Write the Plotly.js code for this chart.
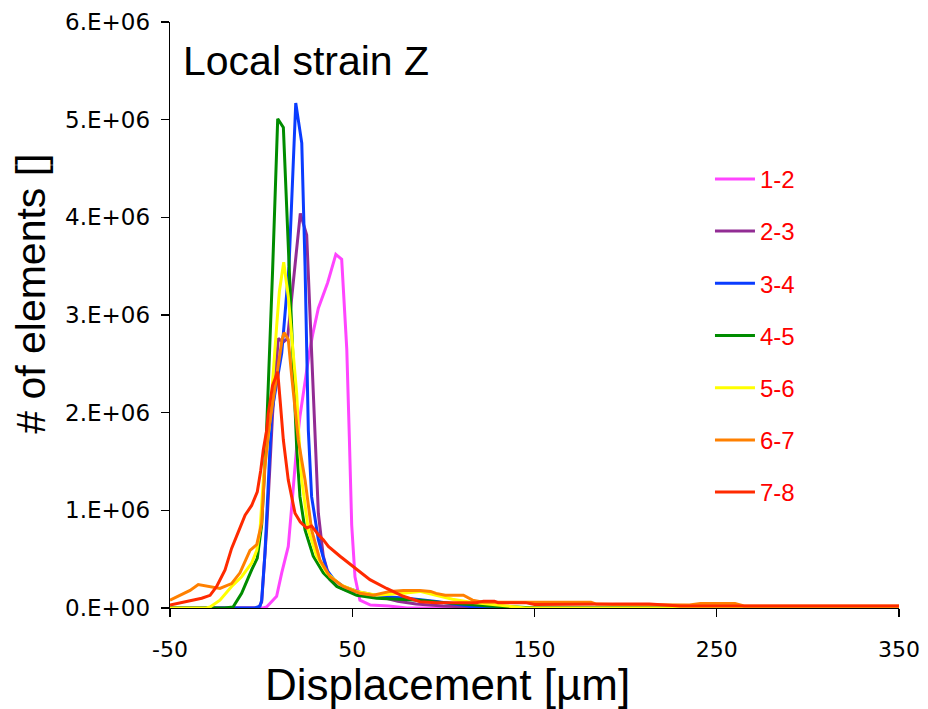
<!DOCTYPE html>
<html>
<head>
<meta charset="utf-8">
<script src="https://cdn.plot.ly/plotly-3.0.1.min.js"></script>
<style>
  html, body { margin: 0; padding: 0; background: #ffffff; }
  #chart { width: 928px; height: 709px; }
</style>
</head>
<body>
<div id="chart"></div>
<script>
// Histogram of local strain (Z) per layer pair: displacement [µm] vs. number of elements.
// Counts are listed in millions and scaled to elements when the traces are built.
const MILLION = 1e6;

const seriesNames = ["1-2", "2-3", "3-4", "4-5", "5-6", "6-7", "7-8"];
const seriesColors = ["#ff45ff", "#922c94", "#0a3cff", "#008c00", "#ffff00", "#ff8000", "#ff2a00"];

const x12 = [-50, 1, 3, 8.5, 11.3, 14.9, 16.8, 19.5, 21.3, 23.1, 26.5, 28.3, 31.4, 36.5, 41, 44.2, 47, 48.4, 49.7, 51.5, 54.2, 60, 70, 80, 350];
const y12 = [0, 0, 0.01, 0.12, 0.36, 0.63, 1.04, 1.65, 1.96, 2.2, 2.62, 2.8, 3.07, 3.33, 3.62, 3.57, 2.65, 1.75, 0.85, 0.32, 0.08, 0.03, 0.02, 0, 0];

const x23 = [-50, -1.5, 0.3, 1.2, 3, 4.9, 6.3, 9.4, 12, 14.5, 18.2, 21.5, 25, 27.5, 29.6, 31.4, 34.1, 37.8, 42, 47, 58, 65, 75, 85, 100, 115, 130, 350];
const y23 = [0, 0, 0.06, 0.29, 0.8, 1.48, 1.99, 2.76, 2.72, 2.76, 3.46, 4.04, 3.82, 2.7, 1.82, 0.97, 0.53, 0.29, 0.22, 0.18, 0.15, 0.12, 0.07, 0.04, 0.02, 0.01, 0, 0];

const x34 = [-50, -3.4, -0.6, 0.3, 2.1, 3.9, 5.8, 8.5, 11.3, 15.3, 19, 22.3, 24.1, 25.9, 27.7, 31.4, 36, 40, 45, 56, 65, 80, 95, 110, 120, 350];
const y34 = [0, 0, 0.02, 0.08, 0.56, 1.31, 2.0, 2.3, 2.61, 3.5, 5.17, 4.76, 3.5, 1.82, 1.14, 0.7, 0.39, 0.29, 0.22, 0.15, 0.12, 0.1, 0.07, 0.03, 0, 0];

const x45 = [-50, -20, -15.4, -10.7, -5.2, -2.1, 0.3, 1.5, 3, 6.3, 9.1, 12.2, 15.5, 17.3, 19.5, 21.3, 24.1, 28.6, 34.1, 41.5, 52.4, 63.4, 75, 87, 100, 110, 125, 140, 150, 350];
const y45 = [0, 0, 0.01, 0.15, 0.39, 0.51, 0.85, 1.3, 1.82, 3.46, 5.01, 4.92, 3.46, 2.71, 1.65, 1.14, 0.8, 0.53, 0.36, 0.22, 0.13, 0.1, 0.09, 0.08, 0.055, 0.04, 0.02, 0.01, 0, 0];

const x56 = [-50, -30, -28, -22.6, -16.2, -10.7, -5.2, -2.4, -0.6, 1.2, 4.5, 6.7, 8.5, 10, 12.4, 14.9, 17.7, 19.5, 20.6, 22.3, 25.9, 30.5, 36, 43.3, 52.4, 63.4, 78, 87.2, 96, 105, 115, 130, 145, 350];
const y56 = [0, 0, 0.01, 0.08, 0.22, 0.32, 0.46, 0.59, 0.8, 1.31, 1.86, 2.37, 2.88, 3.24, 3.54, 3.19, 2.61, 2.2, 1.8, 1.31, 0.8, 0.53, 0.36, 0.24, 0.17, 0.13, 0.15, 0.17, 0.13, 0.09, 0.06, 0.03, 0, 0];

const x67 = [-50, -44.5, -39, -34.5, -28, -22.6, -16.2, -11.6, -6.1, -2.4, 0.3, 2.1, 4, 6.5, 9, 11.5, 12.6, 14.9, 16.8, 18.6, 20.4, 24.1, 27.7, 32.3, 37.8, 45.1, 54.2, 61.6, 70.7, 78, 87.2, 93, 96, 101, 111, 116, 122, 128, 146, 181, 184, 193, 235, 241, 260, 265, 350];
const y67 = [0.08, 0.13, 0.18, 0.24, 0.22, 0.2, 0.25, 0.36, 0.59, 0.65, 0.87, 1.45, 1.8, 2.1, 2.4, 2.75, 2.82, 2.75, 2.37, 2.03, 1.72, 1.31, 0.8, 0.49, 0.32, 0.22, 0.15, 0.13, 0.17, 0.18, 0.18, 0.17, 0.15, 0.13, 0.13, 0.08, 0.06, 0.06, 0.058, 0.058, 0.04, 0.035, 0.03, 0.045, 0.045, 0.02, 0.02];

const x78 = [-50, -44.5, -38.1, -32.6, -28, -24.4, -19.8, -16.2, -12.5, -8.8, -5.2, -2.1, -0.2, 1.2, 3.05, 3.9, 6.3, 9.1, 10.4, 12.2, 14.9, 16.8, 18.6, 21.5, 25, 27.7, 31.4, 34.1, 36.9, 43.3, 50.6, 59.7, 68.9, 78, 87.2, 96, 118, 122, 128, 130, 145, 150, 195, 213, 230, 350];
const y78 = [0.03, 0.05, 0.08, 0.1, 0.13, 0.22, 0.39, 0.61, 0.78, 0.95, 1.05, 1.19, 1.41, 1.62, 1.82, 1.99, 2.28, 2.42, 2.13, 1.72, 1.31, 1.14, 0.97, 0.88, 0.82, 0.84, 0.75, 0.7, 0.63, 0.53, 0.42, 0.29, 0.2, 0.12, 0.065, 0.055, 0.055, 0.07, 0.07, 0.055, 0.055, 0.035, 0.04, 0.04, 0.02, 0.02];

const seriesX = [x12, x23, x34, x45, x56, x67, x78];
const seriesY = [y12, y23, y34, y45, y56, y67, y78];

const yTickValues = [0, 1, 2, 3, 4, 5, 6];
const yTickLabels = ["0.E+00", "1.E+06", "2.E+06", "3.E+06", "4.E+06", "5.E+06", "6.E+06"];
const xTickValues = [-50, 50, 150, 250, 350];
const xTickLabels = ["-50", "50", "150", "250", "350"];

const chartTitle = "Local strain Z";
const xTitle = "Displacement [µm]";
const yTitle = "# of elements []";

const sans = "Liberation Sans, Arial, sans-serif";
const tickFont = "DejaVu Sans, Verdana, sans-serif";

const traces = seriesNames.map((name, i) => ({
  type: "scatter",
  mode: "lines",
  name: name,
  legendgroup: name,
  x: seriesX[i],
  y: seriesY[i].map(v => v * MILLION),
  line: { color: seriesColors[i], width: 3 },
  hoverinfo: "x+y+name"
}));

const layout = {
  width: 928,
  height: 709,
  margin: { l: 170, r: 29, t: 22, b: 101 },
  paper_bgcolor: "#ffffff",
  plot_bgcolor: "#ffffff",
  showlegend: true,
  legend: {
    x: 0.7407, y: 0.770, xanchor: "left", yanchor: "top",
    font: { family: sans, size: 24, color: "#ff0000" },
    tracegroupgap: 18,
    itemwidth: 40,
    bgcolor: "rgba(0,0,0,0)"
  },
  xaxis: {
    range: [-50, 350],
    tickvals: xTickValues,
    ticktext: xTickLabels,
    ticks: "outside", ticklen: 8, tickwidth: 1.3, tickcolor: "#000",
    showline: true, linecolor: "#000", linewidth: 1.3,
    showgrid: false, zeroline: false,
    ticklabelstandoff: 13,
    tickfont: { family: tickFont, size: 22, color: "#000" }
  },
  yaxis: {
    range: [0, 6 * MILLION],
    tickvals: yTickValues.map(v => v * MILLION),
    ticktext: yTickLabels,
    ticks: "outside", ticklen: 8, tickwidth: 1.3, tickcolor: "#000",
    showline: true, linecolor: "#000", linewidth: 1.3,
    showgrid: false, zeroline: false,
    ticklabelstandoff: 6,
    tickfont: { family: tickFont, size: 23, color: "#000" }
  },
  annotations: [
    { text: chartTitle, xref: "paper", yref: "paper", x: 0.0155, y: 0.934,
      xanchor: "left", yanchor: "middle", showarrow: false,
      font: { family: sans, size: 41, color: "#000" } },
    { text: xTitle, xref: "paper", yref: "paper", x: 0.38, y: -0.13,
      xanchor: "center", yanchor: "middle", showarrow: false,
      font: { family: sans, size: 44, color: "#000" } },
    { text: yTitle, xref: "paper", yref: "paper", x: -0.19, y: 0.537,
      xanchor: "center", yanchor: "middle", showarrow: false, textangle: -90,
      font: { family: sans, size: 41, color: "#000" } }
  ]
};

Plotly.newPlot("chart", traces, layout, { displayModeBar: false, staticPlot: true });
</script>
</body>
</html>
